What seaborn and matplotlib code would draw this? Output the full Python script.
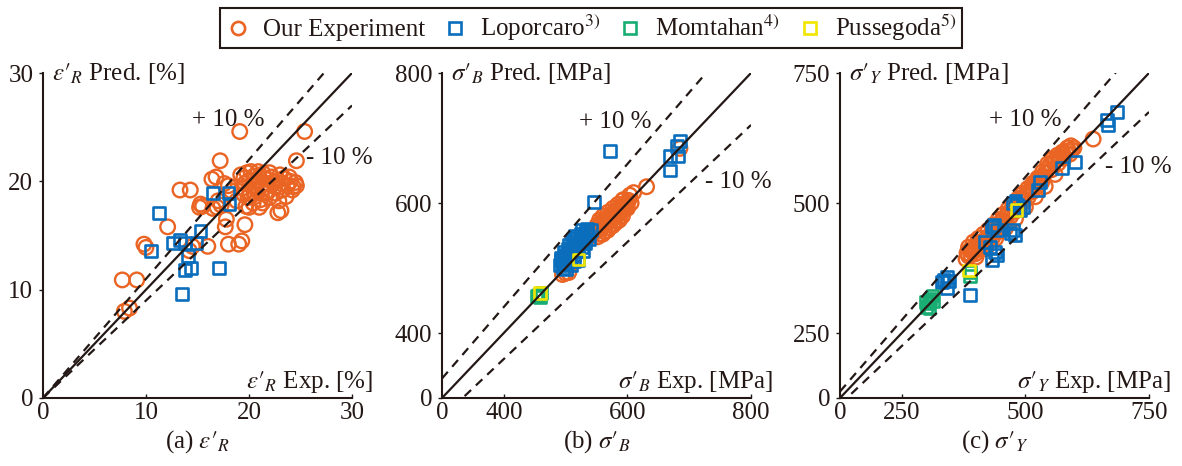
import numpy as np
import pandas as pd
import matplotlib
matplotlib.use("Agg")
import matplotlib.pyplot as plt
from matplotlib.lines import Line2D
import seaborn as sns

# ---------------- data ----------------
# Panel (a): elongation eps'_R [%]  (experimental, predicted)
a_our_exp = [7.7, 9.1, 7.9, 8.4, 9.8, 10.0, 12.1, 13.3, 14.3, 15.5, 15.3, 16.0, 14.2, 14.5,
             16.4, 16.8, 17.2, 16.9, 17.3, 17.0, 17.6, 18.0, 17.8, 17.7, 18.0, 19.0, 19.3,
             19.6, 19.7, 19.1, 25.4, 24.6, 15.2, 16.5,
             19.2, 19.5, 19.8, 20.0, 20.3, 20.5, 20.8, 21.0, 21.3, 21.6, 21.9, 22.2, 22.5,
             22.8, 23.1, 23.4, 23.7, 24.0, 24.3, 24.5, 20.1, 20.6, 21.1, 21.6, 22.6, 23.6,
             20.4, 21.0, 19.9, 22.0, 23.0, 19.6, 20.9, 24.2, 22.8, 23.1, 21.3, 20.0,
             19.4, 20.2, 20.7, 21.4, 21.8, 22.4, 23.3, 23.9, 24.6, 21.2, 22.0, 20.5, 22.9,
             19.5, 18.8, 18.3]
a_our_pred = [10.9, 10.9, 8.0, 8.3, 14.2, 13.9, 15.8, 19.2, 19.2, 17.7, 17.9, 14.0, 13.6, 14.0,
              20.2, 20.4, 21.9, 17.6, 17.8, 18.2, 19.8, 19.6, 16.5, 15.8, 14.2, 14.2, 14.5,
              16.0, 17.7, 24.6, 24.6, 21.9, 17.6, 17.5,
              20.6, 20.3, 20.8, 20.1, 19.6, 20.5, 19.9, 20.4, 19.3, 20.2, 19.8, 20.4, 19.5,
              20.1, 19.8, 20.3, 19.6, 20.0, 19.5, 19.9, 19.0, 18.6, 18.3, 18.9, 18.9, 18.6,
              18.0, 17.6, 18.5, 20.8, 20.6, 19.8, 20.9, 19.2, 17.1, 17.3, 18.0, 17.6,
              19.4, 20.9, 19.3, 20.7, 19.0, 19.9, 19.2, 20.4, 19.6, 19.6, 18.5, 18.9, 18.2,
              18.8, 18.2, 19.1]
a_lop_exp = [11.3, 10.5, 13.3, 12.6, 13.8, 14.1, 13.8, 14.4, 13.5, 14.9, 15.3, 17.1, 16.5, 18.0, 18.1]
a_lop_pred = [17.1, 13.6, 14.6, 14.3, 14.3, 13.1, 11.8, 12.0, 9.6, 14.3, 15.4, 12.0, 18.9, 18.9, 17.9]

# Panel (b): tensile strength sigma'_B [MPa]
b_our_exp = [548, 551, 553, 555, 557, 559, 561, 563, 565, 567, 569, 571, 573, 575, 577, 579,
             581, 583, 585, 587, 589, 591, 593, 596, 599, 604, 610, 593, 631, 685, 495, 500, 505,
             550, 554, 558, 562, 566, 570, 574, 578, 582, 586, 590, 594, 597, 552, 560, 568,
             576, 584, 592, 600, 602, 606]
b_our_pred = [556, 566, 552, 574, 560, 570, 580, 556, 566, 576, 586, 562, 572, 582, 592, 568,
              578, 588, 598, 574, 584, 594, 604, 590, 600, 612, 616, 605, 625, 684, 490, 492, 493,
              560, 568, 563, 574, 570, 580, 576, 586, 583, 592, 588, 598, 595, 548, 552, 558,
              565, 572, 580, 592, 604, 600]
b_lop_exp = [490, 493, 496, 499, 502, 505, 508, 511, 514, 517, 520, 523, 526, 529, 532, 535,
             538, 541, 533, 537, 498, 506, 513, 521, 546, 572, 685, 680, 669, 682, 669,
             492, 495, 500, 503, 507, 510, 513, 516, 519, 522, 525, 528, 531, 534, 527, 515,
             509, 501]
b_lop_pred = [505, 512, 500, 518, 508, 524, 514, 530, 520, 536, 526, 542, 532, 548, 538, 554,
              544, 558, 557, 550, 525, 536, 545, 512, 602, 680, 695, 688, 672, 672, 650,
              515, 508, 520, 530, 522, 540, 510, 528, 546, 536, 552, 526, 544, 560, 558, 550,
              505, 498]
b_mom_exp = [456, 459, 453, 461]
b_mom_pred = [459, 455, 457, 461]
b_pus_exp = [459, 521]
b_pus_pred = [461, 513]

# Panel (c): yield strength sigma'_Y [MPa]
c_our_exp = [380, 382, 385, 388, 390, 393, 396, 398, 401, 404, 407, 410, 413, 416, 419, 422,
             425, 428, 431, 434, 437, 440, 443, 446, 449, 452, 455, 458, 461, 464, 467, 470,
             473, 476, 479, 482, 485, 488, 491, 494, 497, 500, 503, 506, 509, 512, 515, 518,
             521, 524, 527, 530, 533, 536, 540, 545, 549, 553, 557, 561, 566, 570, 574, 578,
             582, 586, 590, 594, 598, 637,
             385, 395, 405, 415, 425, 435, 445, 455, 465, 475, 485, 495, 505, 515, 525, 535,
             545, 555, 565, 575, 585, 592, 400, 420, 440, 460, 480, 500, 520, 540, 560]
c_our_pred = [392, 404, 398, 410, 400, 406, 414, 402, 410, 418, 412, 420, 426, 418, 428, 434,
              426, 436, 442, 434, 446, 452, 444, 456, 462, 454, 466, 472, 464, 476, 482, 474,
              486, 492, 484, 496, 500, 494, 506, 510, 502, 514, 520, 512, 524, 530, 522, 534,
              540, 532, 544, 548, 540, 552, 558, 566, 572, 564, 578, 584, 576, 588, 594, 586,
              596, 600, 594, 602, 606, 623,
              415, 425, 432, 440, 448, 458, 468, 478, 488, 498, 508, 518, 528, 538, 548, 560,
              575, 585, 592, 598, 606, 610, 396, 412, 432, 452, 470, 492, 512, 532, 555]
c_lop_exp = [475, 489, 483, 495, 480, 432, 442, 437, 475, 479, 470, 418, 428, 438, 442, 432,
             341, 331, 336, 345, 341, 388, 529, 525, 574, 600, 665, 667, 685]
c_lop_pred = [500, 486, 496, 492, 505, 454, 448, 458, 448, 438, 443, 425, 415, 406, 400, 390,
              358, 348, 352, 350, 337, 323, 540, 525, 567, 579, 660, 650, 675]
c_mom_exp = [300, 304, 308, 312, 298, 306, 314, 388, 389]
c_mom_pred = [300, 308, 316, 322, 310, 298, 312, 360, 368]
c_pus_exp = [386, 482]
c_pus_pred = [370, 486]

# axis settings per panel
a_lim = (0, 30)
a_ticks = [0, 10, 20, 30]
a_ticklabels = ["0", "10", "20", "30"]
b_lim = (300, 800)
b_ticks = [300, 400, 600, 800]
b_ticklabels = ["0", "400", "600", "800"]
c_lim = (125, 750)
c_ticks = [125, 250, 500, 750]
c_ticklabels = ["0", "250", "500", "750"]

series_names = ["Our Experiment", "Loporcaro$^{3)}$", "Momtahan$^{4)}$", "Pussegoda$^{5)}$"]
captions = [r"(a) $\varepsilon{\prime}_R$", r"(b) $\sigma{\prime}_B$", r"(c) $\sigma{\prime}_Y$"]
pred_labels = [r"$\varepsilon{\prime}_R$ Pred. [%]", r"$\sigma{\prime}_B$ Pred. [MPa]",
               r"$\sigma{\prime}_Y$ Pred. [MPa]"]
exp_labels = [r"$\varepsilon{\prime}_R$ Exp. [%]", r"$\sigma{\prime}_B$ Exp. [MPa]",
              r"$\sigma{\prime}_Y$ Exp. [MPa]"]

# ---------------- style ----------------
sns.set_theme(style="white")
plt.rcParams["font.family"] = ["Liberation Serif", "DejaVu Serif"]
plt.rcParams["mathtext.fontset"] = "stix"

C_OUR = "#EA6423"
C_LOP = "#0A6EBD"
C_MOM = "#18AD72"
C_PUS = "#F2E600"
INK = "#231815"
FS = 18

fig = plt.figure(figsize=(11.82, 4.66), dpi=100)
W, H = 1182.0, 466.0
lefts = [43, 442, 840]
axes = [fig.add_axes([l / W, 1 - 398 / H, 309 / W, 325 / H]) for l in lefts]

panels = [
    dict(our=(a_our_exp, a_our_pred), lop=(a_lop_exp, a_lop_pred), mom=None, pus=None,
         lim=a_lim, ticks=a_ticks, tl=a_ticklabels,
         plus=(0.60, 0.855), minus=(0.96, 0.74)),
    dict(our=(b_our_exp, b_our_pred), lop=(b_lop_exp, b_lop_pred), mom=(b_mom_exp, b_mom_pred),
         pus=(b_pus_exp, b_pus_pred), lim=b_lim, ticks=b_ticks, tl=b_ticklabels,
         plus=(0.56, 0.85), minus=(0.96, 0.665)),
    dict(our=(c_our_exp, c_our_pred), lop=(c_lop_exp, c_lop_pred), mom=(c_mom_exp, c_mom_pred),
         pus=(c_pus_exp, c_pus_pred), lim=c_lim, ticks=c_ticks, tl=c_ticklabels,
         plus=(0.60, 0.855), minus=(0.965, 0.71)),
]


def scat(ax, xy, marker, color, s, lw):
    if xy is None:
        return
    df = pd.DataFrame({"exp": xy[0], "pred": xy[1]})
    sns.scatterplot(data=df, x="exp", y="pred", ax=ax, marker=marker, s=s,
                    facecolors="none", edgecolor=color, color=color, linewidth=lw,
                    legend=False, zorder=2)


for i, (ax, p) in enumerate(zip(axes, panels)):
    scat(ax, p["our"], "o", C_OUR, 110, 1.7)
    scat(ax, p["lop"], "s", C_LOP, 72, 1.9)
    scat(ax, p["mom"], "s", C_MOM, 72, 1.9)
    scat(ax, p["pus"], "s", C_PUS, 72, 1.9)

    lo, hi = p["lim"]
    xs = np.array([lo, hi])
    ax.plot(xs, xs, color=INK, lw=1.6, zorder=4)
    ax.plot(xs, 1.1 * xs, color=INK, lw=1.6, ls=(0, (4, 3)), zorder=4)
    ax.plot(xs, 0.9 * xs, color=INK, lw=1.6, ls=(0, (4, 3)), zorder=4)

    ax.set_xlim(lo, hi)
    ax.set_ylim(lo, hi)
    ax.set_xticks(p["ticks"])
    ax.set_xticklabels(p["tl"])
    ax.set_yticks(p["ticks"])
    ax.set_yticklabels(p["tl"])
    ax.set_xlabel("")
    ax.set_ylabel("")
    for side in ["top", "right"]:
        ax.spines[side].set_visible(False)
    for side in ["left", "bottom"]:
        ax.spines[side].set_color(INK)
        ax.spines[side].set_linewidth(1.5)
    ax.tick_params(axis="x", direction="in", length=3, width=1, colors=INK,
                   labelsize=FS, pad=3, bottom=True)
    ax.tick_params(axis="y", direction="out", length=3, width=1, colors=INK,
                   labelsize=FS, pad=4, left=True)

    ax.text(0.03, 1.0, pred_labels[i], transform=ax.transAxes, ha="left", va="center",
            fontsize=FS, color=INK)
    ax.text(1.07, 0.05, exp_labels[i], transform=ax.transAxes, ha="right", va="center",
            fontsize=FS, color=INK)
    ax.text(p["plus"][0], p["plus"][1], "+ 10 %", transform=ax.transAxes, ha="center",
            va="center", fontsize=FS, color=INK)
    ax.text(p["minus"][0], p["minus"][1], "- 10 %", transform=ax.transAxes, ha="center",
            va="center", fontsize=FS, color=INK)
    fig.text((lefts[i] + 154.5) / W, 1 - 442 / H, captions[i], ha="center", va="center",
             fontsize=FS, color=INK)

handles = [
    Line2D([], [], ls="none", marker="o", ms=9.5, mfc="none", mec=C_OUR, mew=1.9),
    Line2D([], [], ls="none", marker="s", ms=8.5, mfc="none", mec=C_LOP, mew=1.9),
    Line2D([], [], ls="none", marker="s", ms=8.5, mfc="none", mec=C_MOM, mew=1.9),
    Line2D([], [], ls="none", marker="s", ms=8.5, mfc="none", mec=C_PUS, mew=1.9),
]
leg = fig.legend(handles, series_names, loc="upper center", bbox_to_anchor=(0.5, 1 - 8 / H),
                 ncol=4, frameon=True, fancybox=False, edgecolor=INK, framealpha=1,
                 fontsize=FS, borderpad=0.2, handletextpad=0.5, columnspacing=0.7,
                 handlelength=1.0, borderaxespad=0)
leg.get_frame().set_linewidth(1.5)
for t in leg.get_texts():
    t.set_color(INK)

fig.savefig("out.png", dpi=100)
